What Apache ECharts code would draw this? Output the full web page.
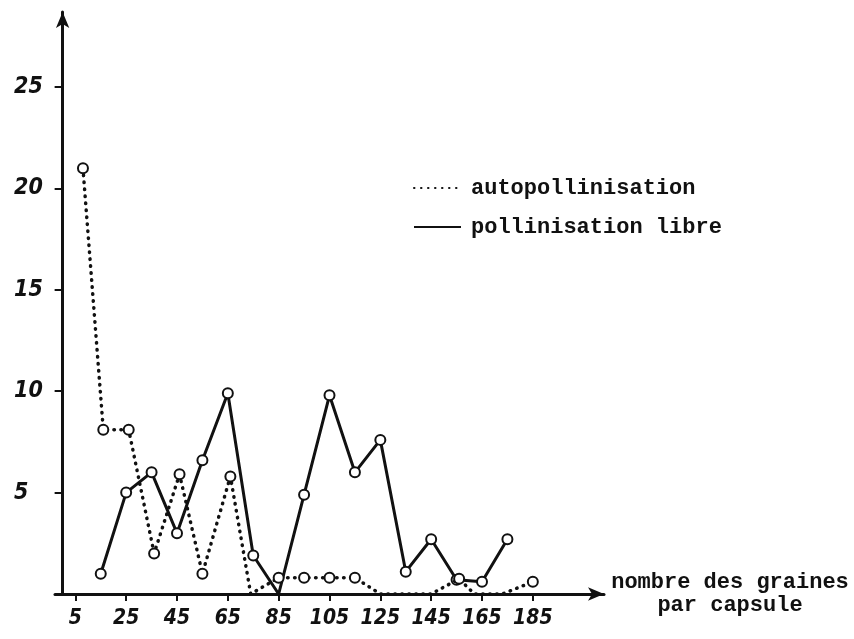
<!DOCTYPE html>
<html>
<head>
<meta charset="utf-8">
<script src="https://cdn.jsdelivr.net/npm/echarts@6/dist/echarts.min.js"></script>
<style>
  html, body { margin: 0; padding: 0; background: #fff; }
  #chart { width: 854px; height: 639px; }
</style>
</head>
<body>
<div id="chart"></div>
<script>
// ticks on the x axis (nombre des graines par capsule)
const xTicks = [5, 25, 45, 65, 85, 105, 125, 145, 165, 185];
const yTicks = [5, 10, 15, 20, 25];

// pollinisation libre (solid)
const libreX = [15, 25, 35, 45, 55, 65, 75, 85, 95, 105, 115, 125, 135, 145, 155, 165, 175];
const libreY = [1.0, 5.0, 6.0, 3.0, 6.6, 9.9, 1.9, 0, 4.9, 9.8, 6.0, 7.6, 1.1, 2.7, 0.7, 0.6, 2.7];

// autopollinisation (dotted)
const autoX = [8, 16, 26, 36, 46, 55, 66, 74, 85, 95, 105, 115, 125, 145, 156, 162, 173, 185];
const autoY = [21, 8.1, 8.1, 2.0, 5.9, 1.0, 5.8, 0, 0.8, 0.8, 0.8, 0.8, 0, 0, 0.75, 0, 0, 0.6];

const ink = '#111';
const numFont = '"DejaVu Sans Condensed", "DejaVu Sans", sans-serif';
const monoFont = '"Liberation Mono", "DejaVu Sans Mono", monospace';

function pairs(xs, ys) {
  return xs.map((x, i) => ({
    value: [x, ys[i]],
    symbol: ys[i] === 0 ? 'none' : 'emptyCircle'
  }));
}

const chart = echarts.init(document.getElementById('chart'));

const option = {
  backgroundColor: '#fff',
  animation: false,
  grid: { left: 55, top: 12, width: 549, height: 582, containLabel: false },
  legend: {
    orient: 'vertical',
    left: 408,
    top: 172,
    itemWidth: 47,
    itemHeight: 22,
    itemGap: 17,
    itemStyle: { opacity: 0 },
    textStyle: {
      fontFamily: monoFont, fontWeight: 'bold', fontSize: 22, color: ink,
      lineHeight: 22, padding: [0, 0, 0, 5]
    },
    data: ['autopollinisation', 'pollinisation libre']
  },
  xAxis: {
    type: 'value',
    min: -3,
    max: 213,
    splitLine: { show: false },
    axisLine: {
      lineStyle: { color: ink, width: 3 },
      symbol: ['none', 'arrow'],
      symbolSize: [10, 16]
    },
    axisTick: {
      show: true, inside: false, length: 7,
      lineStyle: { color: ink, width: 2 },
      customValues: xTicks
    },
    axisLabel: {
      customValues: xTicks,
      margin: 14,
      fontFamily: numFont, fontStyle: 'italic', fontWeight: 'bold',
      fontSize: 21, color: ink
    },
    name: 'nombre des graines\npar capsule',
    nameLocation: 'end',
    nameGap: 126,
    nameTextStyle: {
      fontFamily: monoFont, fontWeight: 'bold', fontSize: 22, color: ink,
      align: 'center', verticalAlign: 'middle', lineHeight: 23
    }
  },
  yAxis: {
    type: 'value',
    min: 0,
    max: 28.7,
    splitLine: { show: false },
    axisLine: {
      lineStyle: { color: ink, width: 3 },
      symbol: ['none', 'arrow'],
      symbolSize: [10, 16]
    },
    axisTick: {
      show: true, length: 8,
      lineStyle: { color: ink, width: 2 },
      customValues: yTicks
    },
    axisLabel: {
      customValues: yTicks,
      margin: 41,
      align: 'left',
      fontFamily: numFont, fontStyle: 'italic', fontWeight: 'bold',
      fontSize: 23, color: ink
    }
  },
  series: [
    {
      name: 'autopollinisation',
      type: 'line',
      data: pairs(autoX, autoY),
      symbolSize: 10,
      itemStyle: { color: ink, borderWidth: 2.5 },
      lineStyle: { color: ink, width: 3.5, type: [0.5, 6.5], cap: 'round' },
      z: 3
    },
    {
      name: 'pollinisation libre',
      type: 'line',
      data: pairs(libreX, libreY),
      symbolSize: 10,
      itemStyle: { color: ink, borderWidth: 2.5 },
      lineStyle: { color: ink, width: 3 },
      z: 2
    }
  ]
};

chart.setOption(option);
window.onresize = function () {
  chart.resize();
};
</script>
</body>
</html>
